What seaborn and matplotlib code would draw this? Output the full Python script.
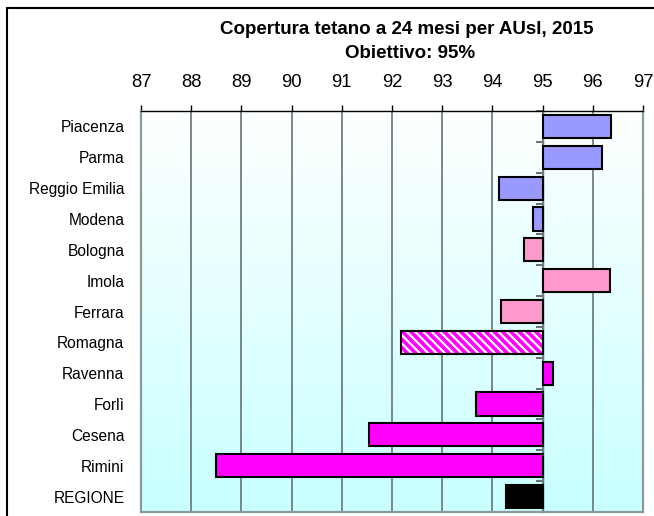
import numpy as np
import pandas as pd
import matplotlib
matplotlib.use("Agg")
import matplotlib.pyplot as plt
import matplotlib.colors as mcolors
from matplotlib.patches import Rectangle
from matplotlib.ticker import FuncFormatter
import seaborn as sns

# ---- data ----
categories = ["Piacenza", "Parma", "Reggio Emilia", "Modena", "Bologna", "Imola",
              "Ferrara", "Romagna", "Ravenna", "Forlì", "Cesena", "Rimini", "REGIONE"]
coverage = [96.37, 96.19, 94.13, 94.81, 94.63, 96.34, 94.17, 92.18, 95.20, 93.67, 91.55, 88.50, 94.27]
bar_colors = ["#9999FF", "#9999FF", "#9999FF", "#9999FF", "#FF99CC", "#FF99CC", "#FF99CC",
              "#FF00FF", "#FF00FF", "#FF00FF", "#FF00FF", "#FF00FF", "#000000"]
target = 95
tick_values = list(range(87, 98))
title_line1 = "Copertura tetano a 24 mesi per AUsl, 2015"
title_line2 = "Obiettivo: 95%"

df = pd.DataFrame({"AUsl": categories, "cov": coverage})
df["dev"] = df["cov"] - target

sns.set_theme(style="white")
plt.rcParams["font.family"] = ["Liberation Sans", "DejaVu Sans"]
plt.rcParams["text.color"] = "black"
plt.rcParams["xtick.labelcolor"] = "black"
plt.rcParams["ytick.labelcolor"] = "black"
plt.rcParams["hatch.linewidth"] = 1.6

fig = plt.figure(figsize=(6.54, 5.16), dpi=100)
ax = fig.add_axes([141/654, 1 - 512/516, (643 - 141)/654, (512 - 111)/516])

# gradient background
grad = np.linspace(0, 1, 256).reshape(-1, 1)
cmap = mcolors.LinearSegmentedColormap.from_list("bg", ["#FFFFFF", "#C8FFFF"])
ax.imshow(grad, aspect="auto", cmap=cmap, extent=[0, 1, 0, 1],
          transform=ax.transAxes, zorder=0)

sns.barplot(data=df, x="dev", y="AUsl", hue="AUsl", order=categories,
            hue_order=categories, palette=bar_colors, legend=False,
            orient="h", width=0.75, edgecolor="black", linewidth=1.5,
            saturation=1, ax=ax, zorder=3)

# hatched Romagna bar
romagna = ax.patches[categories.index("Romagna")]
romagna.set_hatch("\\\\\\\\")
romagna._hatch_color = mcolors.to_rgba("white")

ax.set_xlim(tick_values[0] - target, tick_values[-1] - target)
ax.set_ylim(len(categories) - 0.5, -0.5)
ax.xaxis.tick_top()
ax.xaxis.set_label_position("top")
ax.set_xticks([t - target for t in tick_values])
ax.xaxis.set_major_formatter(FuncFormatter(lambda v, p: f"{v + target:.0f}"))
ax.tick_params(axis="x", which="major", direction="out", length=4, width=1,
               color="black", pad=10.5, labelsize=13.3, top=True, bottom=False,
               labelcolor="black")
ax.tick_params(axis="y", length=0, pad=12, labelsize=11.2, labelcolor="black")
ax.set_xlabel("")
ax.set_ylabel("")

ax.grid(axis="x", color="#6E7F7F", linewidth=1.3, zorder=1)
ax.set_axisbelow(True)

for s in ["left", "right", "bottom"]:
    ax.spines[s].set_color("#8A9A9A")
    ax.spines[s].set_linewidth(1.6)
    ax.spines[s].set_visible(True)
ax.spines["top"].set_color("black")
ax.spines["top"].set_linewidth(1.0)
ax.spines["top"].set_visible(True)

# separator ticks at the target line
sec = ax.secondary_yaxis((target - tick_values[0]) / (tick_values[-1] - tick_values[0]))
sec.set_alignment("left")
sec.set_yticks([i + 0.5 for i in range(-1, len(categories))])
sec.set_yticklabels([])
sec.tick_params(axis="y", direction="out", length=5, width=1.2, color="#555555")
sec.spines["left"].set_color("#555555")
sec.spines["left"].set_linewidth(1.0)

# titles
fig.text(407/654, 1 - 29/516, title_line1, ha="center", va="center",
         fontsize=13.5, fontweight="bold")
fig.text(410/654, 1 - 53/516, title_line2, ha="center", va="center",
         fontsize=13.5, fontweight="bold")

# outer frame
fig.patches.append(Rectangle((7/654, -0.1), 1.2, 1 - 8/516 + 0.1,
                             transform=fig.transFigure, fill=False,
                             edgecolor="black", linewidth=1.5))

fig.savefig("out.png", dpi=100)
